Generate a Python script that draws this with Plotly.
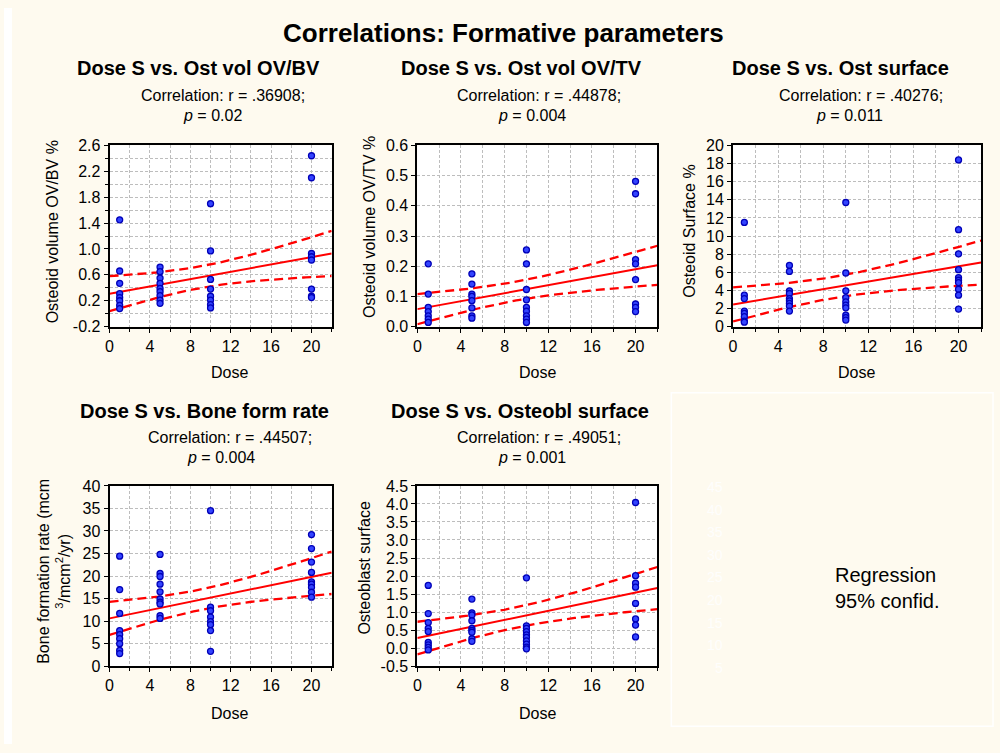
import numpy as np
import plotly.graph_objects as go

FONT = "Liberation Sans, Arial, sans-serif"
W, H = 1000, 753

# ---------------- data ----------------
dose_levels = [1, 5, 10, 20]

p1_d1 = [1.45, 0.66, 0.47, 0.31, 0.25, 0.20, 0.13, 0.08]
p1_d5 = [0.72, 0.65, 0.55, 0.47, 0.39, 0.34, 0.28, 0.21, 0.16]
p1_d10 = [1.70, 0.97, 0.53, 0.38, 0.27, 0.21, 0.14, 0.09]
p1_d20 = [2.44, 2.10, 0.93, 0.88, 0.83, 0.38, 0.27, 0.25]

p2_d1 = [0.208, 0.108, 0.064, 0.050, 0.036, 0.025, 0.014]
p2_d5 = [0.175, 0.141, 0.108, 0.100, 0.086, 0.062, 0.036, 0.028]
p2_d10 = [0.254, 0.208, 0.123, 0.089, 0.064, 0.051, 0.036, 0.025, 0.014]
p2_d20 = [0.481, 0.440, 0.222, 0.208, 0.156, 0.075, 0.064, 0.050]

p3_d1 = [11.5, 3.47, 3.10, 1.72, 1.46, 1.10, 0.62, 0.50]
p3_d5 = [6.76, 6.10, 3.95, 3.66, 3.10, 2.85, 2.56, 2.27, 1.72]
p3_d10 = [13.7, 5.92, 3.95, 3.20, 2.74, 2.38, 2.08, 1.28, 1.00, 0.73]
p3_d20 = [18.4, 10.7, 8.04, 6.29, 5.41, 5.12, 4.86, 4.13, 3.47, 1.94]

p4_d1 = [24.4, 17.0, 11.7, 7.9, 7.0, 6.1, 5.0, 3.5, 2.8]
p4_d5 = [24.8, 20.6, 19.9, 18.2, 16.5, 14.9, 14.2, 13.8, 11.2, 10.6]
p4_d10 = [34.5, 13.1, 12.3, 10.9, 9.9, 9.2, 7.9, 3.3]
p4_d20 = [29.2, 26.1, 23.1, 20.8, 18.7, 18.2, 17.5, 16.4, 15.3]

p5_d1 = [1.74, 0.96, 0.71, 0.55, 0.46, 0.16, 0.09, 0.02, -0.05]
p5_d5 = [1.36, 0.98, 0.92, 0.76, 0.55, 0.49, 0.44, 0.26, 0.19]
p5_d10 = [1.95, 0.62, 0.55, 0.46, 0.37, 0.30, 0.20, 0.11, 0.03, -0.02]
p5_d20 = [4.04, 2.01, 1.80, 1.69, 1.24, 0.81, 0.64, 0.31]

# regression line (intercept, slope) and 95% CI half-width at mean dose
reg_intercept = [0.31, 0.058, 2.45, 10.6, 0.28]
reg_slope = [0.0282, 0.0066, 0.21, 0.46, 0.063]
ci_halfwidth = [0.167, 0.031, 1.165, 2.26, 0.28]

titles = ["Dose S vs. Ost vol OV/BV", "Dose S vs. Ost vol OV/TV", "Dose S vs. Ost surface",
          "Dose S vs. Bone form rate", "Dose S vs. Osteobl surface"]
r_texts = [".36908", ".44878", ".40276", ".44507", ".49051"]
p_texts = ["0.02", "0.004", "0.011", "0.004", "0.001"]
y_titles = ["Osteoid volume OV/BV %", "Osteoid volume OV/TV %", "Osteoid Surface %",
            "Bone formation rate (mcm<br><sup>3</sup>/mcm<sup>2</sup>/yr)", "Osteoblast surface"]
x_ticks = [0, 4, 8, 12, 16, 20]
y_ticks = [
    [-0.2, 0.2, 0.6, 1.0, 1.4, 1.8, 2.2, 2.6],
    [0.0, 0.1, 0.2, 0.3, 0.4, 0.5, 0.6],
    [0, 2, 4, 6, 8, 10, 12, 14, 16, 18, 20],
    [0, 5, 10, 15, 20, 25, 30, 35, 40],
    [-0.5, 0.0, 0.5, 1.0, 1.5, 2.0, 2.5, 3.0, 3.5, 4.0, 4.5],
]
y_tick_text = [
    ["-0.2", "0.2", "0.6", "1.0", "1.4", "1.8", "2.2", "2.6"],
    ["0.0", "0.1", "0.2", "0.3", "0.4", "0.5", "0.6"],
    [str(v) for v in [0, 2, 4, 6, 8, 10, 12, 14, 16, 18, 20]],
    [str(v) for v in [0, 5, 10, 15, 20, 25, 30, 35, 40]],
    ["-0.5", "0.0", "0.5", "1.0", "1.5", "2.0", "2.5", "3.0", "3.5", "4.0", "4.5"],
]
y_minor = [0.2, 0.1, 2, 5, 0.5]
legend_ghost_labels = ["45", "40", "35", "30", "25", "20", "15", "10", "5"]

groups = [
    [p1_d1, p1_d5, p1_d10, p1_d20],
    [p2_d1, p2_d5, p2_d10, p2_d20],
    [p3_d1, p3_d5, p3_d10, p3_d20],
    [p4_d1, p4_d5, p4_d10, p4_d20],
    [p5_d1, p5_d5, p5_d10, p5_d20],
]

# ---------------- layout geometry (target screen pixels) ----------------
Y_OFF, Y_SCALE = 7.8, 0.976   # observed vertical placement of the page in the photo


def px(x):
    return x / W


def py(y):
    return 1 - ((y - Y_OFF) / Y_SCALE) / H


boxes = [  # x0, x1, ytop, ybottom
    (106, 329, 145, 326),
    (415, 656, 145, 326),
    (732, 981, 145, 326),
    (106, 329, 485, 665),
    (415, 656, 485, 665),
]
title_pos = [(195, 68), (520, 68), (840, 68), (201, 410), (518, 410)]
corr_pos = [(220, 95), (537, 95), (860, 95), (227, 437), (537, 437)]
p_pos = [(209, 115), (530, 115), (849, 115), (218, 457), (530, 457)]
ytitle_pos = [(49, 231), (367, 227), (688, 231), (50, 570), (361, 567)]
dose_pos = [(226, 372), (536, 372), (856, 372), (226, 712), (536, 712)]

fig = go.Figure()
annotations = []
grid_col = "#BDBDBD"

x_mean = float(np.mean(dose_levels))
x_var = float(np.mean((np.array(dose_levels) - x_mean) ** 2))
xfit = np.linspace(0, 22, 120)


def ann(text, pos, size, bold=False, angle=0, color="black", xanchor="center", align="center"):
    annotations.append(dict(
        text=f"<b>{text}</b>" if bold else text, x=px(pos[0]), y=py(pos[1]),
        xref="paper", yref="paper", xanchor=xanchor, yanchor="middle", align=align,
        showarrow=False, textangle=angle,
        font=dict(size=size, family=FONT, color=color)))


for i in range(5):
    xa = "x" if i == 0 else f"x{i+1}"
    ya = "y" if i == 0 else f"y{i+1}"
    xs, ys = [], []
    for d, vals in zip(dose_levels, groups[i]):
        xs += [d] * len(vals)
        ys += vals
    yfit = reg_intercept[i] + reg_slope[i] * xfit
    hw = ci_halfwidth[i] * np.sqrt(1 + (xfit - x_mean) ** 2 / x_var)
    for yy in (yfit + hw, yfit - hw):
        fig.add_trace(go.Scatter(x=xfit, y=yy, mode="lines", xaxis=xa, yaxis=ya,
                                 line=dict(color="#FF0000", width=2.3, dash="9px,5px"),
                                 showlegend=False, hoverinfo="skip"))
    fig.add_trace(go.Scatter(x=xfit, y=yfit, mode="lines", xaxis=xa, yaxis=ya,
                             line=dict(color="#FF0000", width=2), showlegend=False,
                             hoverinfo="skip"))
    fig.add_trace(go.Scatter(x=xs, y=ys, mode="markers", xaxis=xa, yaxis=ya,
                             marker=dict(size=6, color="#3344FF",
                                         line=dict(color="#0000B8", width=1.3)),
                             showlegend=False, cliponaxis=False))

    x0, x1, yt, yb = boxes[i]
    common = dict(showline=True, mirror=True, linecolor="black", linewidth=2,
                  ticks="outside", ticklen=4, tickcolor="black", tickwidth=1,
                  showgrid=True, gridcolor=grid_col, griddash="3px,2px", gridwidth=1,
                  zeroline=False, tickfont=dict(size=16, color="black", family=FONT))
    yvals = y_ticks[i]
    fig.update_layout(**{
        ("xaxis" if i == 0 else f"xaxis{i+1}"): dict(
            domain=[px(x0), px(x1)], anchor=ya, range=[0, 22],
            tickvals=x_ticks, ticktext=[str(v) for v in x_ticks],
            minor=dict(dtick=2, tick0=0, showgrid=True, gridcolor=grid_col,
                       griddash="3px,2px", ticks="outside", ticklen=3, tickcolor="black"),
            **common),
        ("yaxis" if i == 0 else f"yaxis{i+1}"): dict(
            domain=[py(yb), py(yt)], anchor=xa, range=[yvals[0], yvals[-1]],
            tickvals=yvals, ticktext=y_tick_text[i],
            minor=dict(dtick=y_minor[i], tick0=yvals[0], showgrid=True, gridcolor=grid_col,
                       griddash="3px,2px", ticks="outside", ticklen=3, tickcolor="black"),
            **common),
    })

    ann(titles[i], title_pos[i], 20, bold=True)
    ann(f"Correlation: r = {r_texts[i]};", corr_pos[i], 16)
    ann(f"<i>p</i> = {p_texts[i]}", p_pos[i], 16)
    ann(y_titles[i], ytitle_pos[i], 16, angle=-90)
    ann("Dose", dose_pos[i], 16)

ann("Correlations: Formative parameters", (502, 33), 26, bold=True)
ann("Regression<br>95% confid.", (832, 587), 20, xanchor="left", align="left")
for k, lab in enumerate(legend_ghost_labels):
    annotations.append(dict(text=lab, x=px(724), y=py(486 + k * 22.6),
                            xref="paper", yref="paper", xanchor="right", yanchor="middle",
                            showarrow=False,
                            font=dict(size=14, family=FONT, color="rgba(255,255,255,0.85)")))

shapes = [
    dict(type="rect", xref="paper", yref="paper", x0=px(670), x1=px(993), y0=py(725), y1=py(392),
         line=dict(color="white", width=1.5), fillcolor="rgba(0,0,0,0)", layer="below"),
    dict(type="rect", xref="paper", yref="paper", x0=0, x1=px(8), y0=0, y1=1,
         line=dict(width=0), fillcolor="white", layer="below"),
]

fig.update_layout(width=W, height=H, margin=dict(l=0, r=0, t=0, b=0),
                  paper_bgcolor="#FEFAEF", plot_bgcolor="white",
                  font=dict(family=FONT, color="black"),
                  annotations=annotations, shapes=shapes, showlegend=False)

pin_script = (
    "document.documentElement.style.margin='0';document.body.style.margin='0';"
    "document.documentElement.style.overflow='hidden';document.body.style.overflow='hidden';"
    "var g=document.getElementById('{plot_id}');"
    "g.style.position='fixed';g.style.left='0px';g.style.top='0px';"
)

fig.write_html("out.html", config={"displayModeBar": False}, post_script=pin_script)
